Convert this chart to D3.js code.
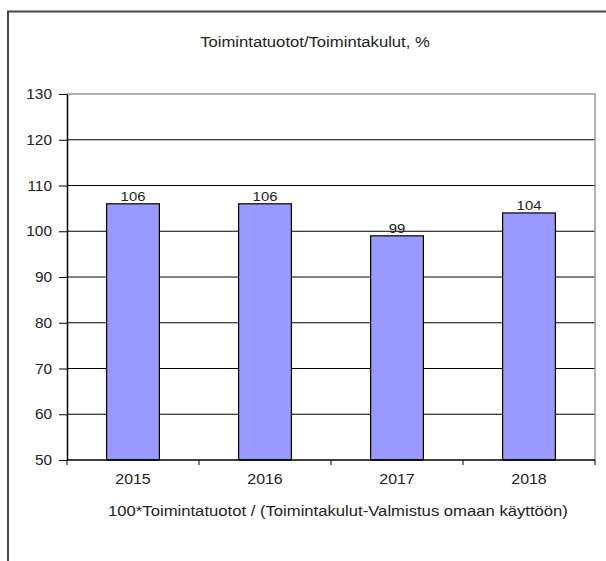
<!DOCTYPE html>
<html><head><meta charset="utf-8">
<script src="https://cdn.jsdelivr.net/npm/d3@7"></script>
<style>body{margin:0;background:#fff}svg{display:block}text{font-family:"Liberation Sans",Arial,sans-serif;fill:#222}</style>
</head><body>
<script>
const categories = ["2015","2016","2017","2018"];
const values = [106, 106, 99, 104];
const yTicks = [50,60,70,80,90,100,110,120,130];
const title = "Toimintatuotot/Toimintakulut, %";
const footer = "100*Toimintatuotot / (Toimintakulut-Valmistus omaan käyttöön)";

(function(){
const W = 606, H = 561;
const svg = d3.select("body").append("svg").attr("width", W).attr("height", H);

function stretched(sel, x, y, sx) {
  sx = sx || 1.1;
  return sel.attr("transform", function(d,i){ return `translate(${typeof x==="function"?x(d,i):x},${typeof y==="function"?y(d,i):y}) scale(${sx},1)`; });
}

// outer frame
svg.append("path").attr("d", `M8,${H+2}V11.5H${W+2}`).attr("fill","none").attr("stroke","#444").attr("stroke-width",2);

const pLeft = 67, pRight = 595, pTop = 94, pBottom = 460;
const x = d3.scaleBand().domain(categories).range([pLeft, pRight]).paddingInner(0.6).paddingOuter(0.3);
const y = d3.scaleLinear().domain([50,130]).range([pBottom, pTop]);

// grid lines
svg.append("g").selectAll("line").data(yTicks.filter(t => t > 50 && t < 130)).join("line")
  .attr("x1", pLeft).attr("x2", pRight).attr("y1", d => y(d)).attr("y2", d => y(d))
  .attr("stroke","#000").attr("stroke-width",1);
// top & right plot border (gray)
svg.append("path").attr("d", `M${pLeft},${y(130)}H${pRight}V${pBottom}`).attr("fill","none").attr("stroke","#999").attr("stroke-width",1.5);

// bars
svg.append("g").selectAll("rect").data(values).join("rect")
  .attr("x", (d,i) => x(categories[i])).attr("width", x.bandwidth())
  .attr("y", d => y(d)).attr("height", d => pBottom - y(d))
  .attr("fill","#9999ff").attr("stroke","#000").attr("stroke-width",1.2);

// value labels
stretched(svg.append("g").selectAll("text").data(values).join("text"),
  (d,i) => x(categories[i]) + x.bandwidth()/2, d => y(d) - 3)
  .attr("text-anchor","middle").attr("font-size", 13.5).text(d => d);

// y axis
const yAxis = svg.append("g").attr("transform", `translate(${pLeft},0)`)
  .call(d3.axisLeft(y).tickValues(yTicks).tickSize(8).tickSizeOuter(0).tickFormat(""));
yAxis.select(".domain").attr("stroke","#000").attr("stroke-width",1.5);
yAxis.selectAll(".tick line").attr("stroke","#000");
stretched(svg.append("g").selectAll("text").data(yTicks).join("text"), 52, d => y(d) + 5)
  .attr("text-anchor","end").attr("font-size",14).text(d => d);

// x axis
const xAxis = svg.append("g").attr("transform", `translate(0,${pBottom})`);
xAxis.append("line").attr("x1", pLeft).attr("x2", pRight).attr("stroke","#000").attr("stroke-width",1.5);
const bounds = d3.range(categories.length + 1).map(i => pLeft + i * (pRight-pLeft)/categories.length);
xAxis.selectAll("line.t").data(bounds).join("line").attr("class","t")
  .attr("x1", d => d).attr("x2", d => d).attr("y1", 0).attr("y2", 5).attr("stroke","#000");
stretched(svg.append("g").selectAll("text").data(categories).join("text"), d => x(d) + x.bandwidth()/2, 484)
  .attr("text-anchor","middle").attr("font-size",14.5).text(d => d);

stretched(svg.append("text"), 315, 47, 1.15).attr("text-anchor","middle").attr("font-size",14.5).text(title);
stretched(svg.append("text"), 338, 516, 1.15).attr("text-anchor","middle").attr("font-size",14.5).text(footer);
})();
</script>
</body></html>
